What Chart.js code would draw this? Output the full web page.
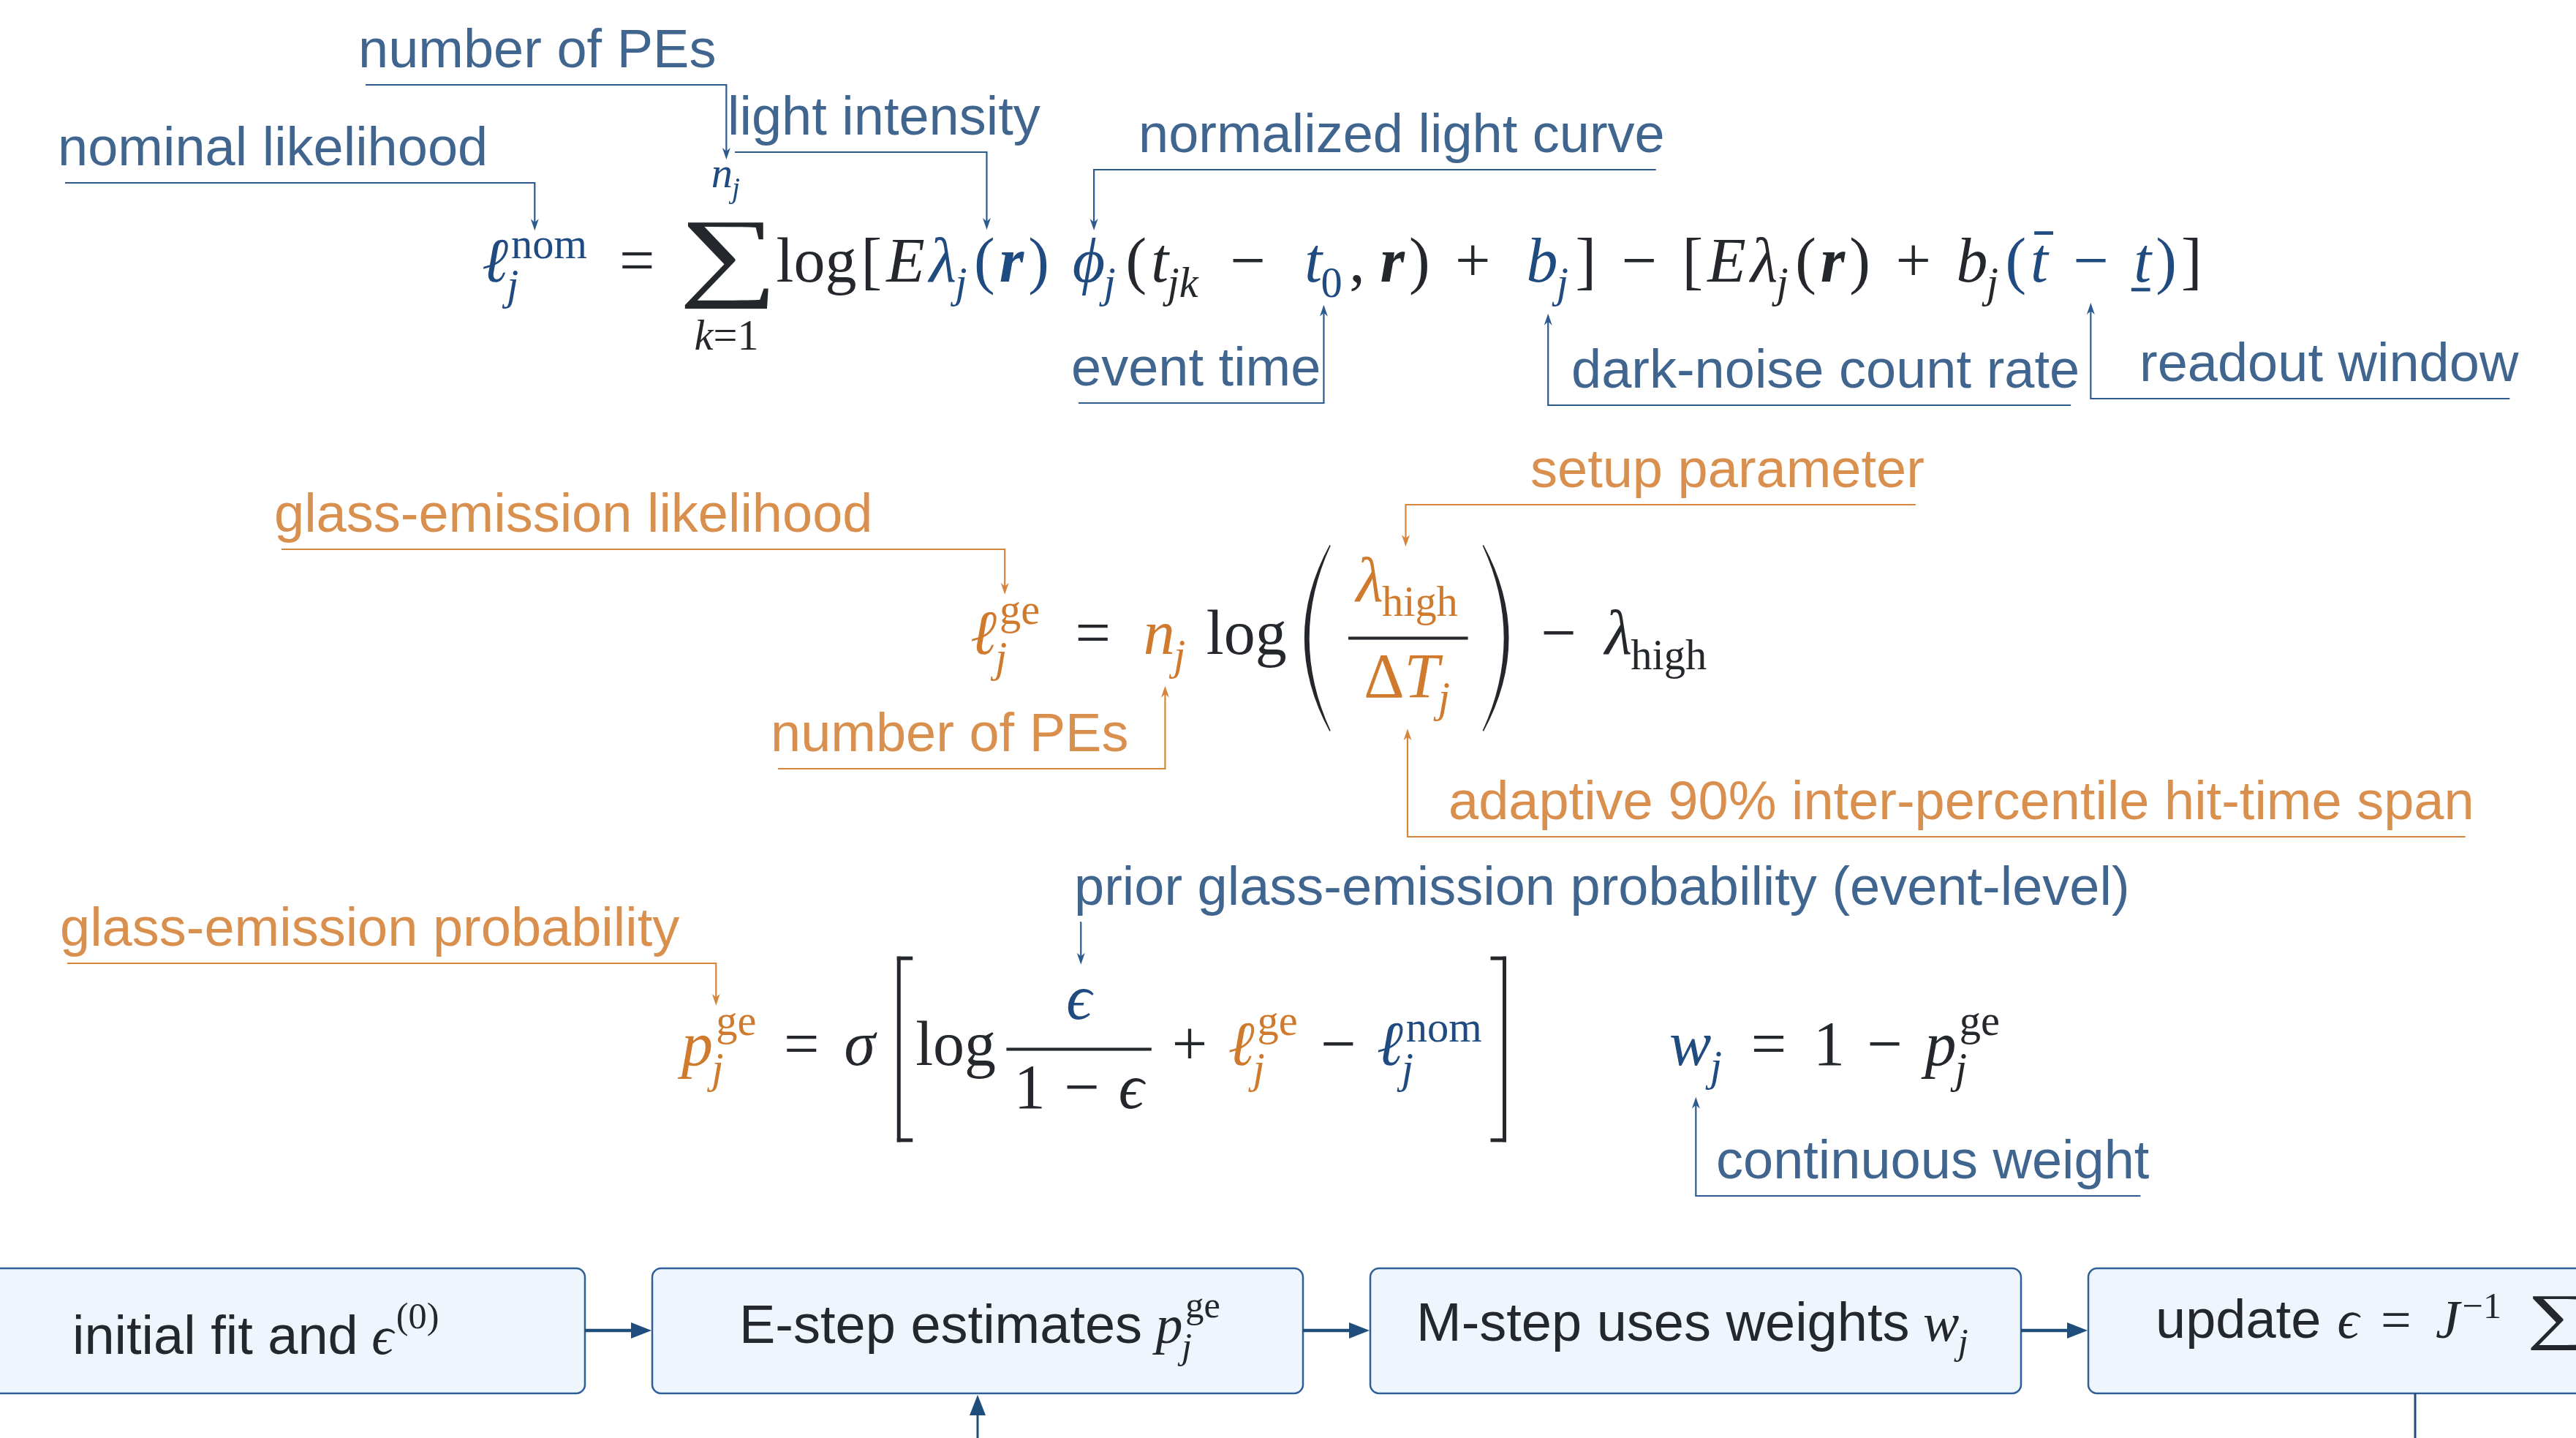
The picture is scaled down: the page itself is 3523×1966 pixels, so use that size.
<!DOCTYPE html>
<html>
<head>
<meta charset="utf-8">
<title>Nominal vs glass-emission likelihood</title>
<script src="https://cdn.jsdelivr.net/npm/chart.js@4.4.1/dist/chart.umd.min.js"></script>
<style>
  html, body { margin: 0; padding: 0; background: #ffffff; }
  #wrap { width: 3523px; height: 1966px; position: relative; }
</style>
</head>
<body>
<div id="wrap"><canvas id="diagram"></canvas></div>
<script>
// frame in data units (1 unit = 1 px of the reference)
const FRAME_W = 3523;
const FRAME_H = 1966;

// colour roles: K black math, B blue, O orange
const INK = { K: '#24272b', B: '#1f4b80', O: '#cf7a2c' };
const LABEL_INK = { B: '#40658f', O: '#d98f4e' };
const LEAD_INK = { B: '#2e5b8d', O: '#d6853c' };
const FLOW_INK = '#1f4e7d';

const SERIF = '"Liberation Serif", "DejaVu Serif", serif';
const SANS = '"Liberation Sans", Arial, sans-serif';
const EQ_EM = 86;
const LABEL_PX = 74;
const STEP_EM = 74;

// ---- equations (token lists) ----
const eqNominal = [
    { t: 'ℓ', f: 'i', c: 'B', sup: 'nom', sub: 'j' },
    { t: '=', sp: 0.4, after: 0.4 },
    { sum: 'display', above: [{ t: 'n', f: 'i', c: 'B', sub: 'j' }], below: [{ t: 'k', f: 'i' }, { t: '=' }, { t: '1' }], after: 0.05 },
    { t: 'log' },
    { t: '[' },
    { t: 'E', f: 'i' },
    { t: 'λ', f: 'i', c: 'B', sub: 'j' },
    { t: '(', c: 'B' },
    { t: 'r', f: 'b', c: 'B' },
    { t: ')', c: 'B' },
    { t: 'ϕ', f: 'i', c: 'B', sub: 'j', sp: 0.3 },
    { t: '(', sp: 0.05 },
    { t: 't', f: 'i', sub: 'jk' },
    { t: '−', sp: 0.4, after: 0.55 },
    { t: 't', f: 'i', c: 'B', sub: '0' },
    { t: ',' },
    { t: 'r', f: 'b', sp: 0.17 },
    { t: ')' },
    { t: '+', sp: 0.33, after: 0.5 },
    { t: 'b', f: 'i', c: 'B', sub: 'j' },
    { t: ']' },
    { t: '−', sp: 0.33, after: 0.33 },
    { t: '[' },
    { t: 'E', f: 'i' },
    { t: 'λ', f: 'i', sub: 'j' },
    { t: '(' },
    { t: 'r', f: 'b' },
    { t: ')' },
    { t: '+', sp: 0.33, after: 0.33 },
    { t: 'b', f: 'i', sub: 'j' },
    { t: '(', c: 'B' },
    { t: 't', f: 'i', c: 'B', bar: 'over' },
    { t: '−', c: 'B', sp: 0.33, after: 0.33 },
    { t: 't', f: 'i', c: 'B', bar: 'under' },
    { t: ')', c: 'B' },
    { t: ']' }
];

const eqGlass = [
    { t: 'ℓ', f: 'i', c: 'O', sup: 'ge', sub: 'j' },
    { t: '=', sp: 0.4, after: 0.4 },
    { t: 'n', f: 'i', c: 'O', sub: 'j' },
    { t: 'log', sp: 0.17 },
    { delim: '(', sp: 0.17 },
    { frac: [{ t: 'λ', f: 'i', c: 'O', sub: 'high' }], den: [{ t: 'Δ', c: 'O' }, { t: 'T', f: 'i', c: 'O', sub: 'j' }], sp: 0.1 },
    { delim: ')', sp: 0.05 },
    { t: '−', sp: 0.4, after: 0.33 },
    { t: 'λ', f: 'i', sub: 'high' }
];

const eqProb = [
    { t: 'p', f: 'i', c: 'O', sup: 'ge', sub: 'j' },
    { t: '=', sp: 0.4, after: 0.4 },
    { t: 'σ', f: 'i' },
    { delim: '[', sp: 0.35 },
    { t: 'log', sp: 0.05 },
    { frac: [{ t: 'ϵ', f: 'i', c: 'B' }], den: [{ t: '1' }, { t: '−', sp: 0.3, after: 0.3 }, { t: 'ϵ', f: 'i' }], sp: 0.17 },
    { t: '+', sp: 0.33, after: 0.33 },
    { t: 'ℓ', f: 'i', c: 'O', sup: 'ge', sub: 'j' },
    { t: '−', sp: 0.33, after: 0.33 },
    { t: 'ℓ', f: 'i', c: 'B', sup: 'nom', sub: 'j' },
    { delim: ']', sp: 0.1 }
];

const eqWeight = [
    { t: 'w', f: 'i', c: 'B', sub: 'j' },
    { t: '=', sp: 0.4, after: 0.4 },
    { t: '1' },
    { t: '−', sp: 0.33, after: 0.33 },
    { t: 'p', f: 'i', sup: 'ge', sub: 'j' }
];

const eqRows = [eqNominal, eqGlass, eqProb, eqWeight];
const eqLeft = [660, 1328, 926, 2285];
const eqRight = [3006, 2334, 2060, 2733];
const eqBaseline = [385, 894, 1456, 1456];

// ---- annotations ----
const labelText = [
    'nominal likelihood', 'number of PEs', 'light intensity', 'normalized light curve',
    'event time', 'dark-noise count rate', 'readout window',
    'glass-emission likelihood', 'number of PEs', 'setup parameter',
    'adaptive 90% inter-percentile hit-time span',
    'glass-emission probability', 'prior glass-emission probability (event-level)', 'continuous weight'
];
const labelTone = ['B', 'B', 'B', 'B', 'B', 'B', 'B', 'O', 'O', 'O', 'O', 'O', 'B', 'B'];
const labelX = [79, 490, 995, 1557, 1465, 2149, 2926, 375, 1054, 2093, 1981, 82, 1469, 2347];
const labelY = [226, 92, 184, 208, 527, 530, 521, 727, 1027, 666, 1120, 1293, 1237, 1611];
// which equation / token group each label points at
const labelEq = [0, 0, 0, 0, 0, 0, 0, 1, 1, 1, 1, 2, 2, 3];
const labelFrom = [0, 2, 6, 10, 14, 19, 30, 0, 2, 5, 5, 0, 5, 0];
const labelTo = [0, 2, 9, 10, 14, 19, 34, 0, 2, 5, 5, 0, 5, 0];
const labelPart = [null, 'above', null, null, null, null, null, null, null, 'num', 'den', null, 'num', null];

// ---- EM flow boxes ----
const stepRows = [
    [{ t: 'initial fit and', f: 's' }, { t: 'ϵ', f: 'i', sup: '(0)', sp: 0.25 }],
    [{ t: 'E-step estimates', f: 's' }, { t: 'p', f: 'i', sup: 'ge', sub: 'j', sp: 0.25 }],
    [{ t: 'M-step uses weights', f: 's' }, { t: 'w', f: 'i', sub: 'j', sp: 0.25 }],
    [{ t: 'update', f: 's' }, { t: 'ϵ', f: 'i', sp: 0.3 }, { t: '=', sp: 0.4, after: 0.45 }, { t: 'J', f: 'i', sup: '−1' }, { sum: 'text', sp: 0.5 }]
];
const stepX0 = [-40, 892, 1874, 2856];
const stepX1 = [800, 1782, 2764, 3640];
const stepTop = 1734;
const stepBottom = 1905;
const stepTextX = [99, 1011, 1937, 2948];
const stepBaseline = [1851, 1836, 1833, 1829];
const flowLinks = [
    [[800, 1819], [891, 1819]],
    [[1782, 1819], [1873, 1819]],
    [[2764, 1819], [2855, 1819]],
    [[1337, 1966], [1337, 1907]],
    [[3303, 1905], [3303, 1966]]
];
const flowHead = [true, true, true, true, false];

// ---- little typesetter ----
function fontOf(f, px) {
    if (f === 's') return `${px}px ${SANS}`;
    if (f === 'i') return `italic ${px}px ${SERIF}`;
    if (f === 'b') return `italic bold ${px}px ${SERIF}`;
    return `${px}px ${SERIF}`;
}

function scriptFont(s) {
    return /^([a-z]|jk)$/.test(s) ? 'i' : 'r';
}

function newBox() {
    return { l: Infinity, r: -Infinity, t: Infinity, b: -Infinity };
}

function grow(bx, l, r, t, b) {
    bx.l = Math.min(bx.l, l);
    bx.r = Math.max(bx.r, r);
    bx.t = Math.min(bx.t, t);
    bx.b = Math.max(bx.b, b);
}

function merge(bx, o) {
    if (o) grow(bx, o.l, o.r, o.t, o.b);
}

function glyph(ctx, s, f, px, x, y, col, draw, bx) {
    ctx.font = fontOf(f, px);
    const m = ctx.measureText(s);
    if (draw) {
        ctx.fillStyle = col;
        ctx.fillText(s, x, y);
    }
    grow(bx, x - m.actualBoundingBoxLeft, x + m.actualBoundingBoxRight,
        y - m.actualBoundingBoxAscent, y + m.actualBoundingBoxDescent);
    return m.width;
}

// draw a glyph stretched into a given box (big operators)
function fitGlyph(ctx, ch, x, top, w, h, col) {
    ctx.save();
    ctx.font = `200px ${SERIF}`;
    const m = ctx.measureText(ch);
    const gw = m.actualBoundingBoxLeft + m.actualBoundingBoxRight;
    const gh = m.actualBoundingBoxAscent + m.actualBoundingBoxDescent;
    ctx.translate(x, top);
    ctx.scale(w / gw, h / gh);
    ctx.fillStyle = col;
    ctx.fillText(ch, m.actualBoundingBoxLeft, m.actualBoundingBoxAscent);
    ctx.restore();
}

function drawParen(ctx, x, top, w, h, side, col) {
    const t = 0.13 * w;
    const mid = top + h / 2;
    ctx.save();
    ctx.fillStyle = col;
    ctx.strokeStyle = col;
    ctx.lineWidth = 1.6;
    ctx.beginPath();
    if (side === '(') {
        const ex = x + w * 0.85;
        ctx.moveTo(ex, top);
        ctx.quadraticCurveTo(2 * x - ex, mid, ex, top + h);
        ctx.quadraticCurveTo(2 * (x + t) - ex, mid, ex, top);
    } else {
        const ex = x + w * 0.15;
        ctx.moveTo(ex, top);
        ctx.quadraticCurveTo(2 * (x + w) - ex, mid, ex, top + h);
        ctx.quadraticCurveTo(2 * (x + w - t) - ex, mid, ex, top);
    }
    ctx.closePath();
    ctx.fill();
    ctx.stroke();
    ctx.restore();
}

function drawBracket(ctx, x, top, w, h, side, col, em) {
    const th = 0.058 * em;
    ctx.save();
    ctx.fillStyle = col;
    const vx = side === '[' ? x : x + w - th;
    ctx.fillRect(vx, top, th, h);
    ctx.fillRect(x, top, w, th);
    ctx.fillRect(x, top + h - th, w, th);
    ctx.restore();
}

function centred(ctx, items, mid, base, em, draw) {
    const m = typeset(ctx, items, 0, 0, em, false);
    return typeset(ctx, items, mid - m.w / 2, base, em, draw).box;
}

// lay out a token list from (x, y); gap is extra space between top-level tokens
function typeset(ctx, items, x, y, em, draw, gap = 0) {
    const row = newBox();
    const tokens = [];
    let cx = x;
    items.forEach((it, idx) => {
        cx += (it.sp || 0) * em;
        const col = INK[it.c || 'K'];
        const box = newBox();
        const parts = {};
        if (it.sum) {
            const big = it.sum === 'display';
            const w = (big ? 1.34 : 1.0) * em;
            const up = (big ? 0.94 : 0.76) * em;
            const dn = (big ? 0.43 : 0.24) * em;
            if (draw) fitGlyph(ctx, '∑', cx, y - up, w, up + dn, col);
            grow(box, cx, cx + w, y - up, y + dn);
            const lim = 0.68 * em;
            if (it.above) parts.above = centred(ctx, it.above, cx + w / 2, y - up - 0.56 * em, lim, draw);
            if (it.below) parts.below = centred(ctx, it.below, cx + w / 2, y + dn + 0.65 * em, lim, draw);
            merge(box, parts.above);
            merge(box, parts.below);
            cx += w;
        } else if (it.frac) {
            const pad = 0.12 * em;
            const mn = typeset(ctx, it.frac, 0, 0, em, false);
            const md = typeset(ctx, it.den, 0, 0, em, false);
            const W = Math.max(mn.w, md.w) + 2 * pad;
            const axis = y - 0.25 * em;
            const numY = axis - Math.max(0.48 * em, mn.box.b + 0.2 * em);
            const denY = axis + Math.max(0.7 * em, -md.box.t + 0.27 * em);
            const th = 0.048 * em;
            if (draw) {
                ctx.fillStyle = INK.K;
                ctx.fillRect(cx, axis - th / 2, W, th);
            }
            const rn = typeset(ctx, it.frac, cx + (W - mn.w) / 2, numY, em, draw);
            const rd = typeset(ctx, it.den, cx + (W - md.w) / 2, denY, em, draw);
            parts.num = rn.box;
            grow(parts.num, rn.box.l, rn.box.r, numY - 0.75 * em, numY);
            parts.den = rd.box;
            grow(parts.den, rd.box.l, rd.box.r, denY, denY + 0.25 * em);
            merge(box, parts.num);
            merge(box, parts.den);
            grow(box, cx, cx + W, axis, axis);
            cx += W;
        } else if (it.delim) {
            const axis = y - 0.25 * em;
            const h = 2.95 * em;
            const top = axis - h / 2;
            const round = it.delim === '(' || it.delim === ')';
            const w = (round ? 0.47 : 0.25) * em;
            if (draw) {
                if (round) drawParen(ctx, cx, top, w, h, it.delim, col);
                else drawBracket(ctx, cx, top, w, h, it.delim, col, em);
            }
            grow(box, cx, cx + w, top, top + h);
            cx += w;
        } else {
            const f = it.f || 'r';
            const w0 = glyph(ctx, it.t, f, em, cx, y, col, draw, box);
            let adv = w0;
            if (it.bar) {
                const bw = 0.3 * em;
                const th = 0.055 * em;
                const bx0 = cx + (w0 - bw) / 2 + (it.bar === 'over' ? 0.07 : -0.03) * em;
                const by = it.bar === 'over' ? y - 0.8 * em : y + 0.1 * em;
                if (draw) {
                    ctx.fillStyle = col;
                    ctx.fillRect(bx0, by, bw, th);
                }
                grow(box, bx0, bx0 + bw, by, by + th);
            }
            if (it.sub || it.sup) {
                const s = 0.68 * em;
                const lean = (f === 'i' || f === 'b') ? 0.05 * em : 0;
                let reach = 0;
                if (it.sup) {
                    const sf = scriptFont(it.sup);
                    ctx.font = fontOf(sf, s);
                    const up = 0.36 * em + 0.8 * ctx.measureText(it.sup).actualBoundingBoxDescent;
                    reach = Math.max(reach, lean + glyph(ctx, it.sup, sf, s, cx + w0 + lean, y - up, col, draw, box));
                }
                if (it.sub) {
                    const dn = (it.sup ? 0.28 : 0.24) * em;
                    reach = Math.max(reach, glyph(ctx, it.sub, scriptFont(it.sub), s, cx + w0 - 0.02 * em, y + dn, col, draw, box) - 0.02 * em);
                }
                adv += reach + 0.04 * em;
            }
            cx += adv;
        }
        cx += (it.after || 0) * em;
        if (idx < items.length - 1) cx += gap;
        merge(row, box);
        tokens.push({ box, parts });
    });
    return { w: cx - x, box: row, tokens };
}

// ---- layout pass (data units) ----
const meas = document.createElement('canvas').getContext('2d');

// spread any width difference over the gaps so glyphs keep their shape
const eqFit = eqRows.map((items, i) => {
    const m = typeset(meas, items, 0, 0, EQ_EM, false);
    const gap = ((eqRight[i] - eqLeft[i]) - (m.box.r - m.box.l)) / (items.length - 1);
    const m2 = typeset(meas, items, 0, 0, EQ_EM, false, gap);
    return { gap, x0: eqLeft[i] - m2.box.l, y0: eqBaseline[i], tokens: m2.tokens };
});

function groupBox(i) {
    const fit = eqFit[labelEq[i]];
    const bx = newBox();
    for (let k = labelFrom[i]; k <= labelTo[i]; k++) {
        const tk = fit.tokens[k];
        merge(bx, labelPart[i] ? tk.parts[labelPart[i]] : tk.box);
    }
    return { l: fit.x0 + bx.l, r: fit.x0 + bx.r, t: fit.y0 + bx.t, b: fit.y0 + bx.b };
}

const leaderPaths = labelText.map((txt, i) => {
    const g = groupBox(i);
    const tipX = (g.l + g.r) / 2;
    const above = labelY[i] < g.t;
    const tipY = above ? g.t - 10 : g.b + 10;
    const uy = labelY[i] + 24;
    meas.font = fontOf('s', LABEL_PX);
    const tw = meas.measureText(txt).width;
    const ux = tipX < labelX[i] ? labelX[i] + tw - 12 : labelX[i] + 10;
    return [[ux, uy], [tipX, uy], [tipX, tipY]];
});

// pull the last point back so the line stops inside the arrowhead
function trimEnd(path, by) {
    const p = path.map(q => q.slice());
    const a = p[p.length - 2], b = p[p.length - 1];
    const len = Math.hypot(b[0] - a[0], b[1] - a[1]);
    b[0] -= (b[0] - a[0]) / len * by;
    b[1] -= (b[1] - a[1]) / len * by;
    return p;
}

const datasets = [
    ...leaderPaths.map((p, i) => ({
        type: 'line',
        data: trimEnd(p, 8).map(([x, y]) => ({ x, y })),
        borderColor: LEAD_INK[labelTone[i]],
        borderWidth: 2.2,
        pointRadius: 0,
        tension: 0,
        fill: false
    })),
    ...flowLinks.map((p, i) => ({
        type: 'line',
        data: (flowHead[i] ? trimEnd(p, 18) : p).map(([x, y]) => ({ x, y })),
        borderColor: FLOW_INK,
        borderWidth: i < 3 ? 4.5 : 3,
        pointRadius: 0,
        tension: 0,
        fill: false
    }))
];

function arrowHead(ctx, from, tip, len, half, notch, col) {
    const ang = Math.atan2(tip[1] - from[1], tip[0] - from[0]);
    ctx.save();
    ctx.translate(tip[0], tip[1]);
    ctx.rotate(ang);
    ctx.fillStyle = col;
    ctx.beginPath();
    ctx.moveTo(0, 0);
    ctx.lineTo(-len, -half);
    ctx.lineTo(-len * (1 - notch), 0);
    ctx.lineTo(-len, half);
    ctx.closePath();
    ctx.fill();
    ctx.restore();
}

const diagramPlugin = {
    id: 'diagram',
    beforeDatasetsDraw(chart) {
        const { ctx } = chart;
        const xs = chart.scales.x, ys = chart.scales.y;
        ctx.save();
        stepX0.forEach((x0, i) => {
            const l = xs.getPixelForValue(x0), r = xs.getPixelForValue(stepX1[i]);
            const t = ys.getPixelForValue(stepTop), b = ys.getPixelForValue(stepBottom);
            ctx.beginPath();
            ctx.roundRect(l, t, r - l, b - t, 12);
            ctx.fillStyle = '#eef5fc';
            ctx.fill();
            ctx.lineWidth = 2.5;
            ctx.strokeStyle = '#2f5f98';
            ctx.stroke();
        });
        ctx.restore();
    },
    afterDatasetsDraw(chart) {
        const { ctx } = chart;
        const xs = chart.scales.x, ys = chart.scales.y;
        const pt = q => [xs.getPixelForValue(q[0]), ys.getPixelForValue(q[1])];
        const kx = xs.getPixelForValue(1) - xs.getPixelForValue(0);
        const ky = ys.getPixelForValue(1) - ys.getPixelForValue(0);
        ctx.save();
        ctx.textAlign = 'left';
        ctx.textBaseline = 'alphabetic';

        // arrowheads
        leaderPaths.forEach((p, i) => {
            arrowHead(ctx, pt(p[p.length - 2]), pt(p[p.length - 1]), 16, 5.5, 0.3, LEAD_INK[labelTone[i]]);
        });
        flowLinks.forEach((p, i) => {
            if (flowHead[i]) arrowHead(ctx, pt(p[0]), pt(p[1]), 28, 11, 0, FLOW_INK);
        });

        // labels
        ctx.font = fontOf('s', LABEL_PX * ky);
        labelText.forEach((txt, i) => {
            ctx.fillStyle = LABEL_INK[labelTone[i]];
            const [x, y] = pt([labelX[i], labelY[i]]);
            ctx.fillText(txt, x, y);
        });

        // equations
        eqRows.forEach((items, i) => {
            const fit = eqFit[i];
            const [x, y] = pt([fit.x0, fit.y0]);
            ctx.save();
            ctx.translate(x, y);
            ctx.scale(kx, ky);
            typeset(ctx, items, 0, 0, EQ_EM, true, fit.gap);
            ctx.restore();
        });

        // flow box texts
        stepRows.forEach((items, i) => {
            const [x, y] = pt([stepTextX[i], stepBaseline[i]]);
            ctx.save();
            ctx.translate(x, y);
            ctx.scale(kx, ky);
            typeset(ctx, items, 0, 0, STEP_EM, true);
            ctx.restore();
        });
        ctx.restore();
    }
};

new Chart(document.getElementById('diagram'), {
    type: 'scatter',
    data: { datasets },
    options: {
        responsive: true,
        maintainAspectRatio: false,
        animation: false,
        events: [],
        layout: { padding: 0 },
        plugins: {
            legend: { display: false },
            tooltip: { enabled: false }
        },
        scales: {
            x: { type: 'linear', min: 0, max: FRAME_W, display: false },
            y: { type: 'linear', min: 0, max: FRAME_H, reverse: true, display: false }
        }
    },
    plugins: [diagramPlugin]
});
</script>
</body>
</html>
